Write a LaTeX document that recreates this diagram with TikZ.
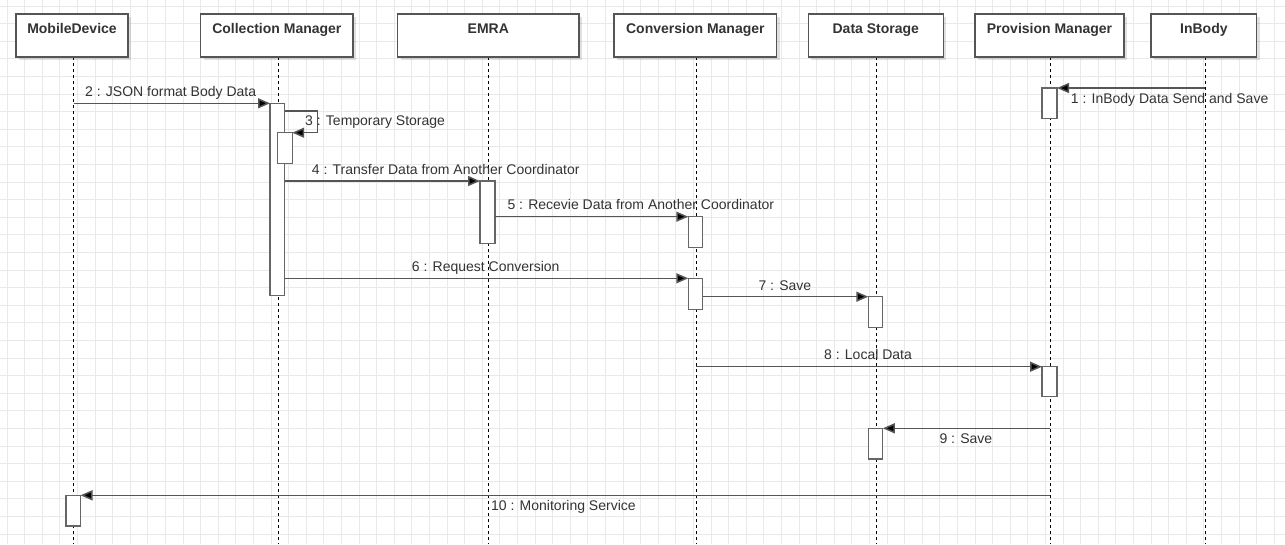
\documentclass[tikz,border=0pt]{standalone}
\usepackage{fontspec}
\setmainfont{Liberation Sans}
\usetikzlibrary{arrows.meta,shadows,calc}
\definecolor{gridc}{HTML}{E9E9E9}
\definecolor{boxc}{HTML}{555555}
\definecolor{txtc}{HTML}{333333}
\definecolor{msgc}{HTML}{555555}
\definecolor{actc}{HTML}{666666}
\begin{document}
\begin{tikzpicture}[x=1pt,y=-1pt,
  hdr/.style={draw=boxc, line width=1.4pt, fill=white, inner sep=0pt, outer sep=0pt, anchor=north west,
    drop shadow={shadow xshift=3pt, shadow yshift=-3pt, fill=black, opacity=0.12}},
  htxt/.style={anchor=base, inner sep=0pt, text=txtc, font=\fontsize{14pt}{16pt}\selectfont\bfseries},
  life/.style={draw=black, line width=0.9pt, dash pattern=on 3pt off 3pt},
  act/.style={draw=actc, line width=1.3pt, fill=white, inner sep=0pt, outer sep=0pt, anchor=north west},
  msg/.style={draw=msgc, line width=1.5pt, -{Triangle[length=12pt,width=10pt,fill=black]}},
  lbl/.style={anchor=base west, inner sep=0pt, text=txtc, font=\fontsize{14pt}{16pt}\selectfont}]
% background and grid
\fill[white] (0,0) rectangle (1285,544);
\useasboundingbox (0,0) rectangle (1285,544);
\foreach \k in {0,...,72} {\draw[gridc, line width=1pt] ({7+17.6*\k},0) -- ({7+17.6*\k},544);}
\foreach \k in {0,...,30} {\draw[gridc, line width=1pt] (0,{6+17.6*\k}) -- (1285,{6+17.6*\k});}
% lifeline coordinates
\foreach \n/\x in {Mob/73.7, Col/278.3, EMRA/488.3, Conv/696.3, Data/876.7, Prov/1050.3, In/1205.3} {
  \coordinate (l\n T) at (\x,57);
  \coordinate (l\n B) at (\x,544);
}
\foreach \n in {Mob,Col,EMRA,Conv,Data,Prov,In} {\draw[life] (l\n T) -- (l\n B);}
% header boxes
\node[hdr, minimum width=112pt,   minimum height=43pt] (hMob)  at (16,14) {};
\node[hdr, minimum width=152.3pt, minimum height=43pt] (hCol)  at (200.7,14) {};
\node[hdr, minimum width=181.4pt, minimum height=43pt] (hEMRA) at (397.6,14) {};
\node[hdr, minimum width=162.7pt, minimum height=43pt] (hConv) at (614,14) {};
\node[hdr, minimum width=135pt,   minimum height=43pt] (hData) at (808.3,14) {};
\node[hdr, minimum width=149pt,   minimum height=43pt] (hProv) at (975,14) {};
\node[hdr, minimum width=105.7pt, minimum height=43pt] (hIn)   at (1151,14) {};
\node[htxt] (tMob)  at (hMob.center  |- 0,33.3) {MobileDevice};
\node[htxt] (tCol)  at (hCol.center  |- 0,33.3) {Collection Manager};
\node[htxt] (tEMRA) at (hEMRA.center |- 0,33.3) {EMRA};
\node[htxt] (tConv) at (hConv.center |- 0,33.3) {Conversion Manager};
\node[htxt] (tData) at (hData.center |- 0,33.3) {Data Storage};
\node[htxt] (tProv) at (hProv.center |- 0,33.3) {Provision Manager};
\node[htxt] (tIn)   at (hIn.center   |- 0,33.3) {InBody};
% activation boxes
\node[act, minimum width=15pt,   minimum height=30.5pt] (a1)  at (1042,88) {};
\node[act, minimum width=14.5pt, minimum height=192pt]  (a2)  at (270,103.3) {};
\node[act, minimum width=14.5pt, minimum height=30.5pt] (a3)  at (277.7,132.7) {};
\node[act, minimum width=15pt,   minimum height=62.3pt] (a4)  at (480,181) {};
\node[act, minimum width=14.5pt, minimum height=31pt]   (a5)  at (688.3,216.7) {};
\node[act, minimum width=14.5pt, minimum height=31pt]   (a6)  at (688.3,278.3) {};
\node[act, minimum width=14.5pt, minimum height=31pt]   (a7)  at (868.3,296.7) {};
\node[act, minimum width=15pt,   minimum height=30pt]   (a8)  at (1042,366.7) {};
\node[act, minimum width=14.5pt, minimum height=30.7pt] (a9)  at (868.3,428.3) {};
\node[act, minimum width=14.5pt, minimum height=30.7pt] (a10) at (66,495.3) {};
% messages
\draw[msg] (lInT |- a1.north) -- (a1.north east);
\draw[msg] (lMobT |- a2.north) -- (a2.north west);
\coordinate (m3s) at (284.5,111);
\draw[msg] (m3s) -- ++(33.2,0) |- (a3.north east);
\draw[msg] (a2.east |- a4.north) -- (a4.north west);
\draw[msg] (a4.east |- a5.north) -- (a5.north west);
\draw[msg] (a2.east |- a6.north) -- (a6.north west);
\draw[msg] (a6.east |- a7.north) -- (a7.north west);
\draw[msg] (lConvT |- a8.north) -- (a8.north west);
\draw[msg] (lProvT |- a9.north) -- (a9.north east);
\draw[msg] (lProvT |- a10.north) -- (a10.north east);
% labels
\node[lbl] (L1)  at (1070.7,103.3) {1 : InBody Data Send and Save};
\node[lbl] (L2)  at (85,96.7)      {2 : JSON format Body Data};
\node[lbl] (L3)  at (305,125)      {3 : Temporary Storage};
\node[lbl] (L4)  at (311.7,174.3)  {4 : Transfer Data from Another Coordinator};
\node[lbl] (L5)  at (507.3,209.3)  {5 : Recevie Data from Another Coordinator};
\node[lbl] (L6)  at (411.7,271.7)  {6 : Request Conversion};
\node[lbl] (L7)  at (758.3,290.7)  {7 : Save};
\node[lbl] (L8)  at (824,359.3)    {8 : Local Data};
\node[lbl] (L9)  at (939.3,443.3)  {9 : Save};
\node[lbl] (L10) at (491,510.7)    {10 : Monitoring Service};
\end{tikzpicture}
\end{document}
